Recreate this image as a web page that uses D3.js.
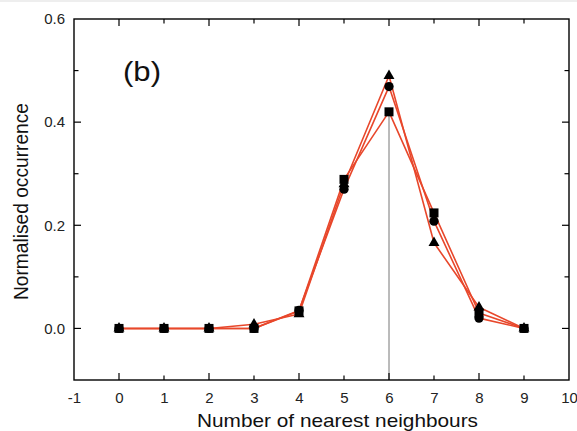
<!DOCTYPE html>
<html><head><meta charset="utf-8">
<script src="https://cdn.jsdelivr.net/npm/d3@7"></script>
<style>
html,body{margin:0;padding:0;background:#fff;}
svg{display:block;font-family:"Liberation Sans",Arial,sans-serif;}
</style></head>
<body>
<svg id="chart" width="577" height="431"></svg>
<script>
const neighbours = [0,1,2,3,4,5,6,7,8,9];
const squareSeries   = [0,0,0,0,0.034,0.289,0.420,0.224,0.030,0];
const circleSeries   = [0,0,0,0,0.035,0.270,0.469,0.208,0.020,0];
const triangleSeries = [0,0,0,0.008,0.028,0.280,0.490,0.166,0.041,0];
const xTicks = [-1,0,1,2,3,4,5,6,7,8,9,10];
const yMajorTicks = [0.0,0.2,0.4,0.6];
const yMinorTicks = [-0.1,0.1,0.3,0.5];
const markerLine = {x:6, from:0.42, to:-0.1};

const svg = d3.select("#chart");
const W = 577, H = 431;
const m = {l:74, r:W-569, t:19, b:H-380};
const x = d3.scaleLinear().domain([-1,10]).range([m.l, W-m.r]);
const y = d3.scaleLinear().domain([-0.1,0.6]).range([H-m.b, m.t]);

// top light strip
svg.append("rect").attr("x",0).attr("y",0).attr("width",W).attr("height",2).attr("fill","#eeeeee");

// vertical reference line
svg.append("line").attr("x1",x(markerLine.x)).attr("x2",x(markerLine.x))
  .attr("y1",y(markerLine.from)).attr("y2",y(markerLine.to))
  .attr("stroke","#777").attr("stroke-width",1);

// frame
svg.append("rect").attr("x",x(-1)).attr("y",y(0.6)).attr("width",x(10)-x(-1)).attr("height",y(-0.1)-y(0.6))
  .attr("fill","none").attr("stroke","#000").attr("stroke-width",1.4);

// axes
const bottom = svg.append("g").attr("transform",`translate(0,${y(-0.1)})`)
  .call(d3.axisBottom(x).tickValues(xTicks).tickFormat(d=>String(d)).tickSize(0).tickPadding(12));
bottom.select(".domain").remove();
bottom.selectAll("text").attr("font-size",15).attr("fill","#222").attr("font-family","Liberation Sans, Arial, sans-serif");

const left = svg.append("g").attr("transform",`translate(${x(-1)},0)`)
  .call(d3.axisLeft(y).tickValues(yMajorTicks).tickFormat(d3.format(".1f")).tickSize(0).tickPadding(9));
left.select(".domain").remove();
left.selectAll("text").attr("font-size",15).attr("fill","#222").attr("font-family","Liberation Sans, Arial, sans-serif");

// inward ticks on all four sides
const tg = svg.append("g").attr("stroke","#000").attr("stroke-width",1.2);
xTicks.filter(d=>d>-1 && d<10).forEach(d=>{
  const len = d%2===0 ? 7 : 4.5;
  tg.append("line").attr("x1",x(d)).attr("x2",x(d)).attr("y1",y(-0.1)).attr("y2",y(-0.1)-len);
  tg.append("line").attr("x1",x(d)).attr("x2",x(d)).attr("y1",y(0.6)).attr("y2",y(0.6)+len);
});
yMajorTicks.concat(yMinorTicks).filter(d=>d>-0.1 && d<0.6).forEach(d=>{
  const len = yMajorTicks.includes(d) ? 7 : 4.5;
  tg.append("line").attr("y1",y(d)).attr("y2",y(d)).attr("x1",x(-1)).attr("x2",x(-1)+len);
  tg.append("line").attr("y1",y(d)).attr("y2",y(d)).attr("x1",x(10)).attr("x2",x(10)-len);
});

// series
const series = [
  {vals:squareSeries, sym:d3.symbolSquare, size:81},
  {vals:circleSeries, sym:d3.symbolCircle, size:68},
  {vals:triangleSeries, sym:d3.symbolTriangle, size:52}
];
const line = d3.line().x((d,i)=>x(neighbours[i])).y(d=>y(d));
series.forEach(s=>{
  svg.append("path").attr("d",line(s.vals)).attr("fill","none")
    .attr("stroke","#e8472b").attr("stroke-width",1.6).attr("stroke-linejoin","round");
});
series.forEach(s=>{
  svg.append("g").selectAll("path").data(s.vals).join("path")
    .attr("transform",(d,i)=>`translate(${x(neighbours[i])},${y(d)})`)
    .attr("d",d3.symbol().type(s.sym).size(s.size)).attr("fill","#000");
});

// labels
svg.append("text").attr("x",123).attr("y",81)
  .attr("font-size",28).attr("fill","#111").attr("textLength",38).attr("lengthAdjust","spacingAndGlyphs").text("(b)");
svg.append("text").attr("x",197).attr("y",427)
  .attr("font-size",19).attr("fill","#111").attr("textLength",281).attr("lengthAdjust","spacingAndGlyphs")
  .text("Number of nearest neighbours");
svg.append("text").attr("transform",`translate(28,300) rotate(-90)`)
  .attr("font-size",20).attr("fill","#111").attr("textLength",197).attr("lengthAdjust","spacingAndGlyphs")
  .text("Normalised occurrence");
</script>
</body></html>
